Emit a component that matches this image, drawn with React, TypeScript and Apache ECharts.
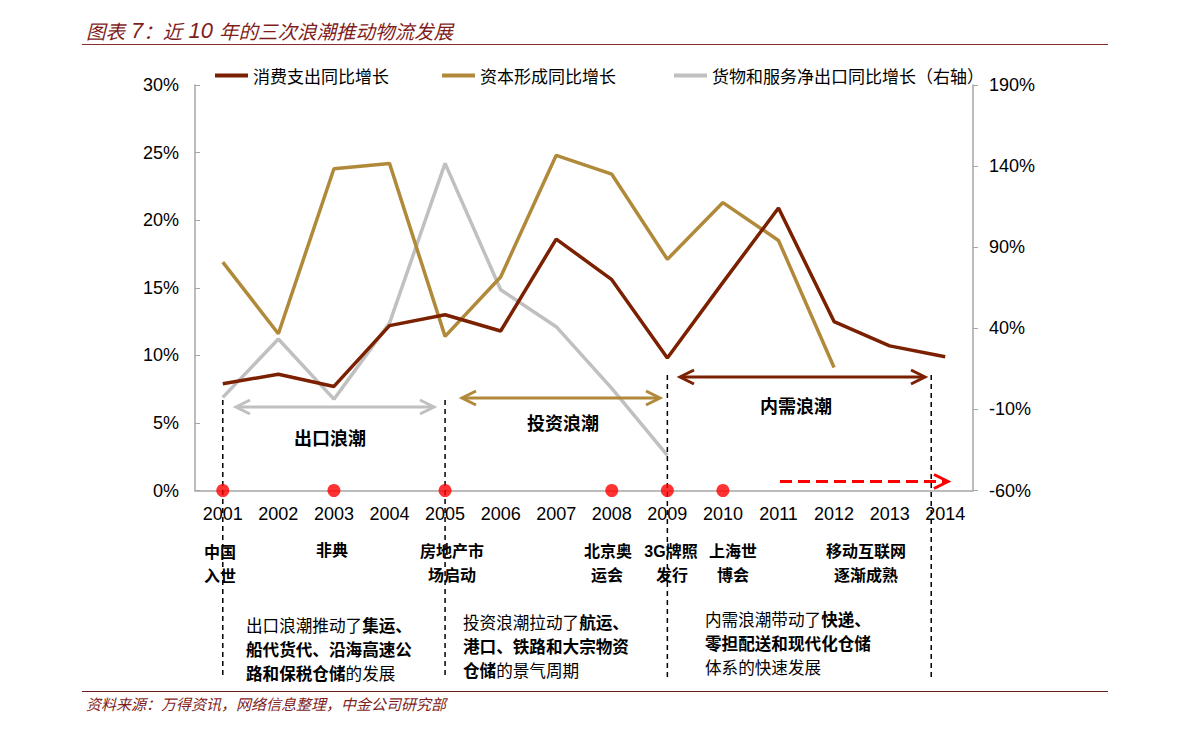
import React, { useEffect, useRef } from "react";
import * as echarts from "echarts";

const years = ["2001", "2002", "2003", "2004", "2005", "2006", "2007", "2008", "2009", "2010", "2011", "2012", "2013", "2014"];
const consumption = [7.9, 8.6, 7.7, 12.2, 13.0, 11.8, 18.6, 15.6, 9.8, 15.4, 20.9, 12.5, 10.7, 9.9];
const capital = [16.9, 11.6, 23.8, 24.2, 11.4, 15.8, 24.8, 23.4, 17.1, 21.3, 18.5, 9.1, null, null];
const netExport = [-2.6, 33.4, -3.7, 43.2, 141.7, 63.8, 41.0, 3.0, -38.3, null, null, null, null, null];
const eventYears = ["2001", "2003", "2005", "2008", "2009", "2010"];
const seriesNames = ["消费支出同比增长", "资本形成同比增长", "货物和服务净出口同比增长（右轴）"];
const leftTicks = { min: 0, max: 30, interval: 5 };
const rightTicks = { min: -60, max: 190, interval: 50 };

const CJK = "'Noto Sans CJK SC'";
const LAT = "'Liberation Sans', 'Noto Sans CJK SC'";
const RED = "#7B2000";
const GOLD = "#B08A3A";
const GRAY = "#C0C0C0";
const TITLE = "#7F1D1D";

export default function App() {
  const ref = useRef<HTMLDivElement>(null);
  useEffect(() => {
    const chart = echarts.init(ref.current!, null, { renderer: "svg" });
    const legendBase = {
      icon: "rect",
      itemWidth: 33,
      itemHeight: 4,
      top: 62,
      textStyle: { fontSize: 17, fontFamily: CJK, color: "#000" },
    };
    chart.setOption({
      animation: false,
      backgroundColor: "#fff",
      grid: { left: 195, right: 218, top: 85, bottom: 241.5 },
      legend: [
        { ...legendBase, left: 210, data: [seriesNames[0]] },
        { ...legendBase, left: 437, data: [seriesNames[1]] },
        { ...legendBase, left: 669, data: [seriesNames[2]] },
      ],
      xAxis: {
        type: "category",
        data: years,
        boundaryGap: true,
        axisLine: { lineStyle: { color: "#A6A6A6", width: 1.5 } },
        axisTick: { inside: true, length: 5, lineStyle: { color: "#A6A6A6" } },
        axisLabel: { fontSize: 18, fontFamily: LAT, color: "#000", margin: 14 },
      },
      yAxis: [
        {
          type: "value",
          ...leftTicks,
          axisLine: { show: true, lineStyle: { color: "#A6A6A6", width: 1.5 } },
          axisTick: { show: true, inside: true, length: 5, lineStyle: { color: "#A6A6A6" } },
          axisLabel: { formatter: "{value}%", fontSize: 18, fontFamily: LAT, color: "#000", margin: 16 },
          splitLine: { show: false },
        },
        {
          type: "value",
          ...rightTicks,
          position: "right",
          axisLine: { show: true, lineStyle: { color: "#A6A6A6", width: 1.5 } },
          axisTick: { show: true, inside: false, length: 5, lineStyle: { color: "#A6A6A6" } },
          axisLabel: { formatter: "{value}%", fontSize: 18, fontFamily: LAT, color: "#000", margin: 16 },
          splitLine: { show: false },
        },
      ],
      series: [
        {
          name: seriesNames[0], type: "line", data: consumption, symbol: "none",
          itemStyle: { color: RED }, lineStyle: { color: RED, width: 3.5 }, z: 4,
        },
        {
          name: seriesNames[1], type: "line", data: capital, symbol: "none",
          itemStyle: { color: GOLD }, lineStyle: { color: GOLD, width: 3.5 }, z: 3,
        },
        {
          name: seriesNames[2], type: "line", yAxisIndex: 1, data: netExport, symbol: "none",
          itemStyle: { color: GRAY }, lineStyle: { color: GRAY, width: 3.5 }, z: 2,
        },
        {
          name: "events", type: "scatter", data: eventYears.map((y) => [y, 0]),
          symbolSize: 13, itemStyle: { color: "#FF0000" }, clip: false, z: 6,
        },
      ],
    });

    const xp = (y: string) => chart.convertToPixel({ xAxisIndex: 0 }, y) as number;
    const dash = (x: number, y1: number) => ({
      type: "line", z: 5,
      shape: { x1: x, y1, x2: x, y2: 677 },
      style: { stroke: "#000", lineWidth: 1.5, lineDash: [5, 4] },
    });
    const chev = (x: number, y: number, dir: number, color: string) => ({
      type: "polyline", z: 5,
      shape: { points: [[x - dir * 14, y - 7], [x, y], [x - dir * 14, y + 7]] },
      style: { stroke: color, lineWidth: 3, fill: null },
    });
    const dbl = (x1: number, x2: number, y: number, color: string) => [
      { type: "line", z: 5, shape: { x1: x1 + 1, y1: y, x2: x2 - 1, y2: y }, style: { stroke: color, lineWidth: 3 } },
      chev(x1, y, -1, color),
      chev(x2, y, 1, color),
    ];
    const txt = (x: number, y: number, text: string, opts: any = {}) => ({
      type: "text", z: 7, x, y,
      style: {
        text, fontSize: 16, fontFamily: CJK, fill: "#000",
        align: "center", verticalAlign: "middle", ...opts,
      },
    });
    const richBlock = (x: number, y: number, text: string) => ({
      type: "text", z: 7, x, y,
      style: {
        text, align: "left", verticalAlign: "top", lineHeight: 24,
        rich: {
          n: { fontSize: 16.6, fontFamily: CJK, fill: "#000", lineHeight: 24 },
          b: { fontSize: 16.6, fontFamily: CJK, fontWeight: "bold", fill: "#000", lineHeight: 24 },
        },
      },
    });

    const x2001 = xp("2001"), x2005 = xp("2005"), x2009 = xp("2009"), x2014 = xp("2014");
    const evBold = { fontWeight: "bold", fontFamily: LAT };

    chart.setOption({
      graphic: [
        // title
        {
          type: "text", x: 86, y: 30,
          style: {
            text: "{c|图表}{d| 7}{c|：近}{d| 10 }{c|年的三次浪潮推动物流发展}",
            verticalAlign: "middle",
            rich: {
              c: { fontSize: 19.5, fontStyle: "italic", fontFamily: CJK, fill: TITLE },
              d: { fontSize: 22, fontStyle: "italic", fontFamily: "'Liberation Sans'", fill: TITLE },
            },
          },
        },
        { type: "line", shape: { x1: 82, y1: 44.5, x2: 1108, y2: 44.5 }, style: { stroke: "#8B2A2A", lineWidth: 1 } },
        { type: "line", shape: { x1: 82, y1: 691.5, x2: 1108, y2: 691.5 }, style: { stroke: "#6B1A1A", lineWidth: 1 } },
        {
          type: "text", x: 86, y: 703,
          style: {
            text: "资料来源：万得资讯，网络信息整理，中金公司研究部",
            fontSize: 15, fontStyle: "italic", fontFamily: CJK, fill: TITLE, verticalAlign: "middle",
          },
        },
        // vertical dashed dividers
        dash(x2001, 400), dash(x2005, 400), dash(x2009, 375), dash(x2014 - 14, 375),
        // wave arrows
        ...dbl(236, 434, 407, GRAY),
        ...dbl(462, 660, 398, GOLD),
        ...dbl(680, 925, 377, RED),
        {
          type: "line", z: 5, shape: { x1: 780, y1: 481.5, x2: 945, y2: 481.5 },
          style: { stroke: "#FF0000", lineWidth: 3, lineDash: [12, 6] },
        },
        chev(948, 481.5, 1, "#FF0000"),
        // wave labels
        txt(330, 437, "出口浪潮", { fontSize: 18, fontWeight: "bold" }),
        txt(563, 422, "投资浪潮", { fontSize: 18, fontWeight: "bold" }),
        txt(796, 405, "内需浪潮", { fontSize: 18, fontWeight: "bold" }),
        // event labels
        txt(220, 552, "中国", evBold), txt(220, 576, "入世", evBold),
        txt(332, 550, "非典", evBold),
        txt(452, 551, "房地产市", evBold), txt(452, 575, "场启动", evBold),
        txt(608, 551, "北京奥", evBold), txt(607, 575, "运会", evBold),
        txt(671, 551, "3G牌照", evBold), txt(672, 575, "发行", evBold),
        txt(733, 551, "上海世", evBold), txt(733, 575, "博会", evBold),
        txt(866, 551, "移动互联网", evBold), txt(866, 575, "逐渐成熟", evBold),
        // description blocks
        richBlock(246, 613, "{n|出口浪潮推动了}{b|集运、}\n{b|船代货代、沿海高速公}\n{b|路和保税仓储}{n|的发展}"),
        richBlock(463, 610, "{n|投资浪潮拉动了}{b|航运、}\n{b|港口、铁路和大宗物资}\n{b|仓储}{n|的景气周期}"),
        richBlock(705, 607, "{n|内需浪潮带动了}{b|快递、}\n{b|零担配送和现代化仓储}\n{n|体系的快速发展}"),
      ],
    });
    return () => chart.dispose();
  }, []);
  return (
    <div
      ref={ref}
      style={{ position: "absolute", left: 0, top: 0, width: 1191, height: 732, background: "#fff" }}
    />
  );
}
